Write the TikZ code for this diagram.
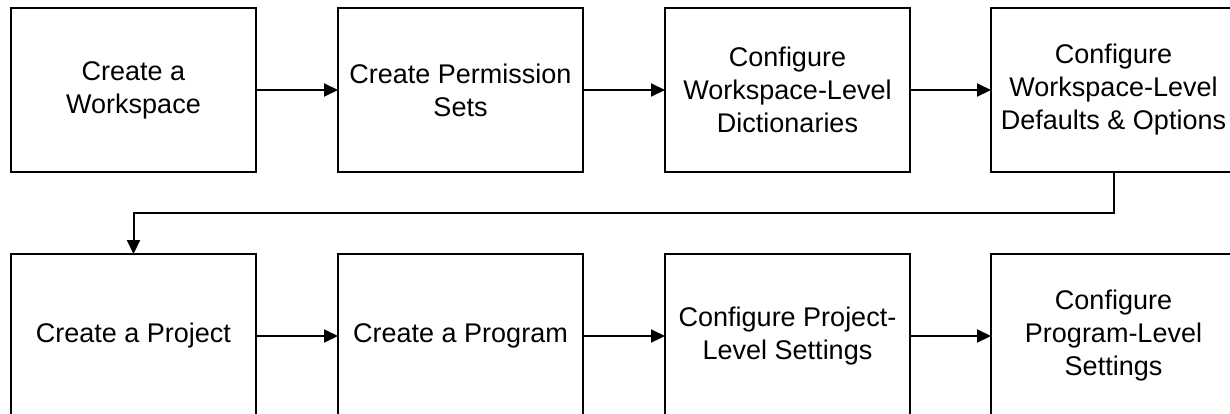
\documentclass[tikz,border=0pt]{standalone}
\usepackage{fontspec}
\setmainfont{Liberation Sans}
\usetikzlibrary{arrows.meta}
\begin{document}
\begin{tikzpicture}[x=0.5pt,y=-0.5pt,
  stepbox/.style={draw=black, line width=1pt, fill=white, minimum width=122.5pt, minimum height=82pt,
    inner sep=0pt, outer sep=0pt, align=center,
    font=\fontsize{13.5pt}{16.5pt}\selectfont},
  flow/.style={draw=black, line width=1pt, -{Triangle[length=7pt,width=6.5pt]}}]
\clip (0,0) rectangle (1230,413);
\fill[white] (0,0) rectangle (1230,413);
\node[stepbox] (a) at (133.5,90) {Create a\\Workspace};
\node[stepbox] (b) at (460.5,90) {Create Permission\\Sets};
\node[stepbox] (c) at (787.5,90) {Configure\\Workspace-Level\\Dictionaries};
\node[stepbox] (d) at (1113.5,90) {Configure\\Workspace-Level\\Defaults \& Options};
\node[stepbox] (e) at (133.5,336) {Create a Project};
\node[stepbox] (f) at (460.5,336) {Create a Program};
\node[stepbox] (g) at (787.5,336) {Configure Project-\\Level Settings};
\node[stepbox] (h) at (1113.5,336) {Configure\\Program-Level\\Settings};
\draw[flow] (a) -- (b);
\draw[flow] (b) -- (c);
\draw[flow] (c) -- (d);
\draw[flow] (d.south) -- ++(0,41) -| (e.north);
\draw[flow] (e) -- (f);
\draw[flow] (f) -- (g);
\draw[flow] (g) -- (h);
\end{tikzpicture}
\end{document}
